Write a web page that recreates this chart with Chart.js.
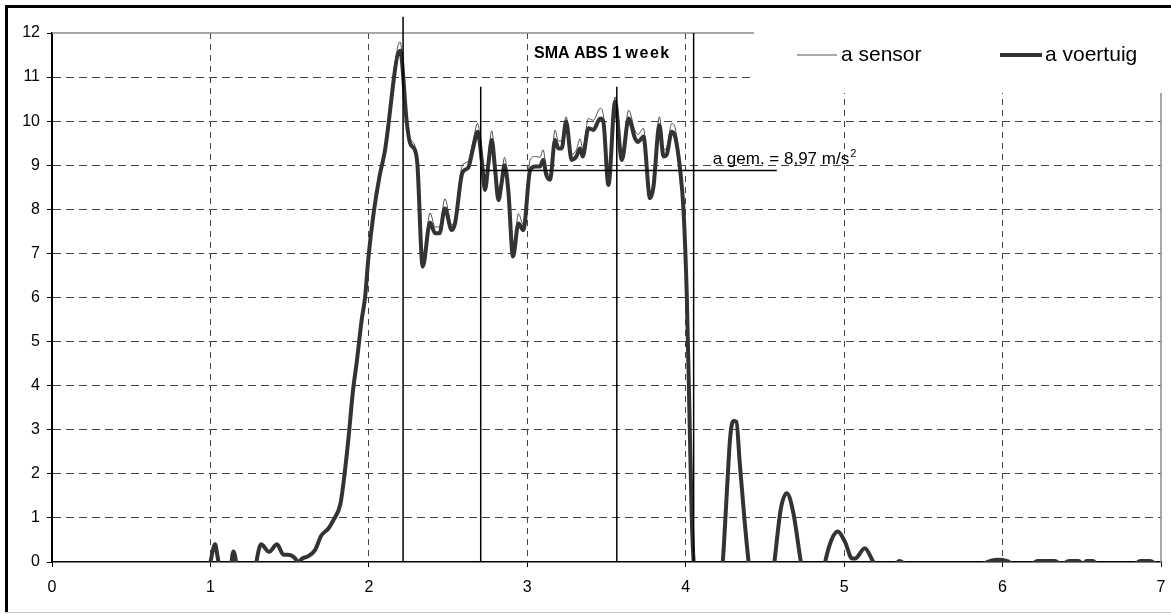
<!DOCTYPE html>
<html>
<head>
<meta charset="utf-8">
<script src="https://cdn.jsdelivr.net/npm/chart.js@4.4.1/dist/chart.umd.min.js"></script>
<style>
  html, body { margin: 0; padding: 0; background: #fff; }
  #grafico { display: block; }
</style>
</head>
<body>
<canvas id="grafico" width="1171" height="614"></canvas>
<script>
// tijd (s) en versnelling (m/s2)
const tijd = [
  0.98, 1.00, 1.03, 1.045, 1.07, 1.12, 1.145, 1.18, 1.26, 1.32,
  1.37, 1.42, 1.46, 1.50, 1.53, 1.555, 1.58, 1.61, 1.66, 1.70,
  1.745, 1.776, 1.82, 1.84, 1.87, 1.90, 1.924, 1.955, 1.976, 1.997,
  2.03, 2.067, 2.10, 2.197, 2.24, 2.26, 2.29, 2.306, 2.34, 2.386,
  2.418, 2.446, 2.48, 2.523, 2.544, 2.586, 2.607, 2.628, 2.66, 2.687,
  2.713, 2.733, 2.755, 2.776, 2.797, 2.818, 2.838, 2.856, 2.88, 2.91,
  2.944, 2.975, 3.018, 3.05, 3.08, 3.10, 3.12, 3.144, 3.175, 3.196,
  3.217, 3.245, 3.28, 3.31, 3.333, 3.35, 3.386, 3.417, 3.46, 3.48,
  3.512, 3.554, 3.597, 3.64, 3.68, 3.70, 3.733, 3.775, 3.796, 3.834,
  3.86, 3.88, 3.912, 3.933, 3.965, 3.986, 4.007, 4.024, 4.038, 4.05,
  4.07, 4.22, 4.234, 4.26, 4.28, 4.30, 4.32, 4.34, 4.37, 4.40,
  4.42, 4.54, 4.56, 4.60, 4.638, 4.68, 4.727, 4.75, 4.86, 4.88,
  4.92, 4.96, 5.006, 5.05, 5.07, 5.13, 5.185, 5.21, 5.32, 5.35,
  5.39, 5.86, 5.92, 5.97, 6.03, 6.07, 6.18, 6.22, 6.33, 6.37,
  6.42, 6.48, 6.51, 6.53, 6.57, 6.6, 6.83, 6.87, 6.93, 6.97
];

const aVoertuig = [
  -0.4, 0, 0.40, 0.12, -0.3, -0.3, 0.24, -0.3, -0.4, 0.40,
  0.23, 0.40, 0.17, 0.16, 0.10, 0.0, 0.08, 0.12, 0.27, 0.6,
  0.76, 0.95, 1.31, 1.8, 2.76, 3.89, 4.55, 5.5, 6.0, 6.9,
  7.91, 8.74, 9.3, 11.6, 9.95, 9.5, 9.35, 9.04, 6.7, 7.7,
  7.46, 7.46, 8.02, 7.53, 7.68, 8.78, 8.9, 8.95, 9.42, 9.76,
  9.1, 8.44, 9.05, 9.57, 8.9, 8.21, 8.6, 9.0, 8.44, 6.93,
  7.68, 7.53, 8.89, 8.97, 8.97, 9.12, 8.78, 8.67, 9.57, 9.38,
  9.38, 9.99, 9.12, 9.2, 9.38, 9.2, 9.84, 9.8, 10.06, 9.99,
  8.55, 10.44, 9.12, 10.06, 9.61, 9.53, 9.65, 8.25, 8.5, 9.91,
  9.2, 9.24, 9.76, 9.65, 8.89, 7.99, 6.02, 3.3, 1.03, 0,
  -0.5, -0.5, 0, 1.6, 2.8, 3.2, 3.18, 2.3, 1.0, -0.1,
  -0.6, -0.6, 0, 1.2, 1.56, 1.1, 0, -0.4, -0.4, 0,
  0.5, 0.69, 0.45, 0.08, 0.08, 0.31, 0, -0.1, -0.05, 0.02,
  -0.05, -0.05, 0.02, 0.05, 0.02, -0.05, -0.05, 0.02, 0.02, -0.05,
  0.02, 0.02, -0.05, 0.02, 0.02, -0.05, -0.05, 0.02, 0.02, -0.05
];

const aSensor = [
  -0.4, 0, 0.42, 0.12, -0.3, -0.3, 0.25, -0.3, -0.4, 0.41,
  0.24, 0.41, 0.18, 0.17, 0.11, 0.0, 0.1, 0.14, 0.3, 0.63,
  0.78, 0.97, 1.33, 1.82, 2.78, 3.9, 4.57, 5.52, 6.03, 6.93,
  7.95, 8.8, 9.35, 11.8, 10.05, 9.62, 9.45, 9.1, 6.78, 7.92,
  7.6, 7.6, 8.24, 7.65, 7.8, 8.95, 9.05, 9.1, 9.6, 9.95,
  9.2, 8.5, 9.25, 9.78, 9.05, 8.3, 8.72, 9.18, 8.55, 7.0,
  7.9, 7.65, 9.12, 9.2, 9.18, 9.35, 8.92, 8.78, 9.8, 9.55,
  9.55, 10.1, 9.25, 9.35, 9.6, 9.38, 10.06, 10.02, 10.29, 10.15,
  8.62, 10.55, 9.25, 10.25, 9.78, 9.7, 9.84, 8.35, 8.62, 10.1,
  9.35, 9.4, 9.95, 9.85, 9.0, 8.05, 6.05, 3.3, 1.03, 0,
  -0.5, -0.5, 0, 1.6, 2.8, 3.22, 3.2, 2.3, 1.0, -0.1,
  -0.6, -0.6, 0, 1.22, 1.58, 1.12, 0, -0.4, -0.4, 0,
  0.52, 0.71, 0.46, 0.08, 0.08, 0.32, 0, -0.1, -0.05, 0.02,
  -0.05, -0.05, 0.02, 0.05, 0.02, -0.05, -0.05, 0.02, 0.02, -0.05,
  0.02, 0.02, -0.05, 0.02, 0.02, -0.05, -0.05, 0.02, 0.02, -0.05
];

// verticale hulplijnen en gemiddelde
const markerX = [2.216, 2.706, 3.565, 4.05];
const markerTop = [12.37, 10.78, 10.78, 12];
const gemX = [2.706, 4.575];
const gemWaarde = 8.88;

const xMin = 0, xMax = 7;
const yMin = 0, yMax = 12;

const lettertype = "'Liberation Sans', Arial, sans-serif";

const punten = (reeks) => tijd.map((t, i) => ({ x: t, y: reeks[i] }));

const datasets = [
  {
    label: 'a sensor',
    data: punten(aSensor),
    borderColor: '#505050',
    borderWidth: 1,
    pointRadius: 0,
    cubicInterpolationMode: 'monotone',
    clip: 0,
    order: 2
  },
  {
    label: 'a voertuig',
    data: punten(aVoertuig),
    borderColor: '#333333',
    borderWidth: 4,
    pointRadius: 0,
    cubicInterpolationMode: 'monotone',
    clip: 0,
    order: 1
  }
];

markerX.forEach((mx, i) => {
  datasets.push({
    label: 'marker' + i,
    data: [{ x: mx, y: yMin }, { x: mx, y: markerTop[i] }],
    borderColor: '#000',
    borderWidth: 1.5,
    pointRadius: 0,
    clip: false,
    order: 0
  });
});

datasets.push({
  label: 'gemiddelde',
  data: [{ x: gemX[0], y: gemWaarde }, { x: gemX[1], y: gemWaarde }],
  borderColor: '#000',
  borderWidth: 1.5,
  pointRadius: 0,
  clip: false,
  order: 0
});

// Kader, legenda, titel en label van het gemiddelde
const kader = {
  id: 'kader',
  beforeDraw(chart) {
    const ctx = chart.ctx;
    ctx.save();
    ctx.fillStyle = '#fff';
    ctx.fillRect(0, 0, chart.width, chart.height);
    ctx.restore();
  },
  beforeDatasetsDraw(chart) {
    const { ctx, chartArea } = chart;
    ctx.save();
    ctx.strokeStyle = '#8a8a8a';
    ctx.lineWidth = 1.5;
    ctx.beginPath();
    ctx.moveTo(chartArea.left, chartArea.top);
    ctx.lineTo(chartArea.right, chartArea.top);
    ctx.moveTo(chartArea.right, chartArea.top);
    ctx.lineTo(chartArea.right, chartArea.bottom);
    ctx.stroke();
    ctx.restore();
  },
  afterDraw(chart) {
    const ctx = chart.ctx;
    const xs = chart.scales.x, ys = chart.scales.y;
    ctx.save();

    // legenda
    ctx.fillStyle = '#fff';
    ctx.fillRect(754, 18, 414, 75);
    const ly = 55;
    ctx.strokeStyle = '#555';
    ctx.lineWidth = 1;
    ctx.beginPath();
    ctx.moveTo(797, ly);
    ctx.lineTo(837, ly);
    ctx.stroke();
    ctx.strokeStyle = '#333';
    ctx.lineWidth = 4;
    ctx.beginPath();
    ctx.moveTo(1000, ly);
    ctx.lineTo(1042, ly);
    ctx.stroke();
    ctx.fillStyle = '#000';
    ctx.font = '21px ' + lettertype;
    ctx.textBaseline = 'middle';
    ctx.fillText('a sensor', 841, ly);
    ctx.fillText('a voertuig', 1045, ly);

    // titel
    ctx.font = 'bold 16px ' + lettertype;
    ctx.fillText('SMA ABS 1 ', 534, 54);
    const w = ctx.measureText('SMA ABS 1 ').width;
    ctx.letterSpacing = '1.5px';
    ctx.fillText('week', 534 + w, 54);
    ctx.letterSpacing = '0px';

    // gemiddelde
    const gx = xs.getPixelForValue(4.17);
    const gy = ys.getPixelForValue(gemWaarde) - 7;
    ctx.textBaseline = 'alphabetic';
    ctx.font = '17px ' + lettertype;
    const tekst = 'a gem. = 8,97 m/s';
    ctx.fillText(tekst, gx, gy);
    const tw = ctx.measureText(tekst).width;
    ctx.font = '11px ' + lettertype;
    ctx.fillText('2', gx + tw + 1, gy - 7);

    // buitenkader
    ctx.strokeStyle = '#000';
    ctx.lineWidth = 3;
    ctx.beginPath();
    ctx.moveTo(5, 6.5);
    ctx.lineTo(chart.width, 6.5);
    ctx.moveTo(6.5, 5);
    ctx.lineTo(6.5, 613);
    ctx.stroke();
    ctx.strokeStyle = '#c8c8c8';
    ctx.lineWidth = 1;
    ctx.beginPath();
    ctx.moveTo(5, 612.5);
    ctx.lineTo(chart.width, 612.5);
    ctx.stroke();
    ctx.restore();
  }
};

const grafiek = document.getElementById('grafico');
const chart = new Chart(grafiek.getContext('2d'), {
  type: 'line',
  data: { datasets: datasets },
  plugins: [kader],
  options: {
    responsive: false,
    animation: false,
    devicePixelRatio: 1,
    layout: { padding: { top: 33, right: 10, left: 0, bottom: 0 } },
    plugins: {
      legend: { display: false },
      title: { display: false },
      tooltip: { enabled: false }
    },
    scales: {
      x: {
        type: 'linear',
        min: xMin,
        max: xMax,
        afterFit: (s) => { s.height = 52; s.paddingRight = 0; s.paddingLeft = 0; },
        ticks: {
          stepSize: 1,
          color: '#000',
          padding: 11,
          font: { family: lettertype, size: 16 }
        },
        grid: {
          color: (c) => (c.tick && (c.tick.value === xMax || c.tick.value === xMin)) ? 'rgba(0,0,0,0)' : '#444',
          lineWidth: 1,
          drawTicks: true,
          tickLength: 5,
          tickColor: '#000',
          tickWidth: 1
        },
        border: { display: true, color: '#000', width: 1.5, dash: [6, 5] }
      },
      y: {
        type: 'linear',
        min: yMin,
        max: yMax,
        afterFit: (s) => { s.width = 52; },
        ticks: {
          stepSize: 1,
          color: '#000',
          padding: 7,
          font: { family: lettertype, size: 16 }
        },
        grid: {
          color: (c) => (c.tick && (c.tick.value === yMax || c.tick.value === yMin)) ? 'rgba(0,0,0,0)' : '#444',
          lineWidth: 1,
          drawTicks: true,
          tickLength: 5,
          tickColor: '#000',
          tickWidth: 1
        },
        border: { display: true, color: '#000', width: 2, dash: [8, 5] }
      }
    }
  }
});
</script>
</body>
</html>
